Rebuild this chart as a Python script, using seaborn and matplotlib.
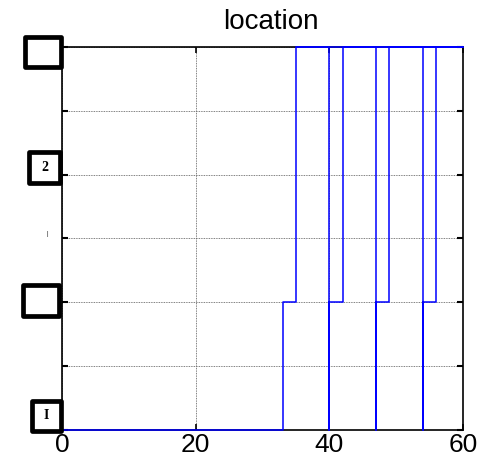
import pandas as pd
import matplotlib
matplotlib.use('Agg')
import matplotlib.pyplot as plt
from matplotlib.offsetbox import AnnotationBbox, DrawingArea
from matplotlib.patches import Rectangle
from matplotlib.text import Text
import seaborn as sns

# step times of the location signal
rise_mid = [33, 40, 47, 54]   # 0 -> middle level
rise_top = [35, 42, 49, 56]   # middle -> top level
t_end = 60
lvl_low, lvl_mid, lvl_top = 0, 1, 3

# y tick labels (boxed) and their values
ytick_vals = [0, 0.5, 1, 1.5, 2, 2.5, 3]
box_labels = {0: 'I', 1: '', 2: '2', 3: ''}
xtick_vals = [0, 20, 40, 60]

# build traces
rows = []
for i in range(len(rise_mid)):
    if i == 0:
        t = [0, rise_mid[i], rise_top[i], t_end]
        loc = [lvl_low, lvl_mid, lvl_top, lvl_top]
    else:
        t = [rise_top[i - 1], rise_mid[i], rise_mid[i], rise_top[i], t_end]
        loc = [lvl_top, lvl_low, lvl_mid, lvl_top, lvl_top]
    for a, b in zip(t, loc):
        rows.append({'trace': i, 'time': a, 'location': b})
df = pd.DataFrame(rows)

sns.set_style("white")
plt.rcParams['font.family'] = ['Liberation Sans', 'DejaVu Sans']
plt.rcParams['text.color'] = 'black'
plt.rcParams['xtick.color'] = 'black'
plt.rcParams['ytick.color'] = 'black'
plt.rcParams['axes.labelcolor'] = 'black'

fig = plt.figure(figsize=(4.9, 4.63), dpi=100)
ax = fig.add_axes([0.1265, 0.0713, 0.8184, 0.8272])

sns.lineplot(data=df, x='time', y='location', units='trace', estimator=None,
             sort=False, drawstyle='steps-post', color='#0000ff', lw=1.1, ax=ax)
for ln in ax.lines:
    ln.set_zorder(3)
    ln.set_clip_on(False)

ax.set_xlim(0, 60)
ax.set_ylim(0, 3)
ax.set_xticks(xtick_vals)
ax.set_xticklabels([str(v) for v in xtick_vals], fontsize=19, color='black')
ax.set_yticks(ytick_vals)
ax.set_yticklabels([])
ax.set_xlabel('')
ax.set_ylabel('')
ax.grid(True, ls=(0, (1, 1)), color='#555555', lw=0.6)
for s in ax.spines.values():
    s.set_color('black')
    s.set_linewidth(1.2)
ax.tick_params(axis='y', left=True, right=True, direction='in', length=4, width=1.5)
ax.tick_params(axis='x', bottom=True, top=True, direction='in', length=4, width=1.2, pad=2)
ax.set_title('location', fontsize=20, x=0.52, pad=13, color='black')

# boxed y labels: (value, width px, height px, dx px, dy px)
box_specs = [(3, 40, 35, -19, -5), (2, 35, 35, -17.5, 7),
             (1, 40, 35, -21, 2), (0, 33, 34, -15.5, 14)]
pt = 72 / 100
for val, w, h, dx, dy in box_specs:
    da = DrawingArea(w * pt, h * pt, 0, 0)
    da.add_artist(Rectangle((1.6, 1.6), w * pt - 3.2, h * pt - 3.2, fc='white',
                            ec='black', lw=3.4, joinstyle='round'))
    da.add_artist(Text(w * pt / 2, h * pt / 2, box_labels[val], ha='center',
                       va='center', fontsize=10, fontweight='bold',
                       family='Liberation Serif', color='black'))
    ab = AnnotationBbox(da, (0, val), xycoords=('axes fraction', 'data'),
                        xybox=(dx * pt, dy * pt), boxcoords='offset points',
                        frameon=False, box_alignment=(0.5, 0.5),
                        annotation_clip=False, zorder=5)
    ax.add_artist(ab)

ax.annotate('ı', (0, 1.5), xycoords=('axes fraction', 'data'),
            xytext=(-14 * pt, 4 * pt), textcoords='offset points',
            ha='center', va='center', fontsize=8, color='#888888')

fig.savefig('out.png', dpi=100)
